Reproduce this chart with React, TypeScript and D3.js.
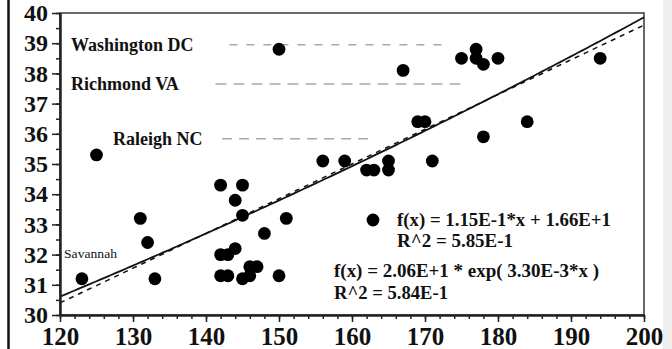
import React, { useEffect, useRef } from 'react';
import * as d3 from 'd3';

const xValues = [123, 125, 131, 132, 133, 142, 145, 144, 145, 151, 148, 142, 143, 144, 142, 143, 145, 146, 147, 146,
  150, 150, 156, 159, 162, 163, 165, 165, 171, 169, 170, 184, 178, 167, 175, 177, 177, 178, 180, 194];
const yValues = [31.2, 35.3, 33.2, 32.4, 31.2, 34.3, 34.3, 33.8, 33.3, 33.2, 32.7, 32.0, 32.0, 32.2, 31.3, 31.3, 31.2, 31.6, 31.6, 31.3,
  31.3, 38.8, 35.1, 35.1, 34.8, 34.8, 35.1, 34.8, 35.1, 36.4, 36.4, 36.4, 35.9, 38.1, 38.5, 38.8, 38.5, 38.3, 38.5, 38.5];

const xTicks = [120, 130, 140, 150, 160, 170, 180, 190, 200];
const xMinorTicks = d3.range(120, 201, 2);
const yTicks = [30, 31, 32, 33, 34, 35, 36, 37, 38, 39, 40];
const yMinorTicks = d3.range(30, 40.01, 0.5);

// fitted curves, coefficients as printed on the chart
const linearFit = [0.115, 16.6];
const expFit = [20.6, 0.0033];
const fitLabels = ['f(x) = 1.15E-1*x + 1.66E+1', 'R^2 = 5.85E-1', 'f(x) = 2.06E+1 * exp( 3.30E-3*x )', 'R^2 = 5.84E-1'];

// city reference lines (latitude) and their extent
const cityNames = ['Washington DC', 'Richmond VA', 'Raleigh NC', 'Savannah'];
const cityLat = [38.95, 37.65, 35.84, 32.05];
const guideFrom = [143.2, 141.3, 142.2];
const guideTo = [172.5, 174.9, 162.5];

const serif = '"Liberation Serif", "Times New Roman", serif';

const App = () => {
  const ref = useRef<SVGSVGElement>(null);

  useEffect(() => {
    document.body.style.margin = '0';
    const svg = d3.select(ref.current);
    svg.selectAll('*').remove();

    const width = 672;
    const height = 349;
    const left = 60, right = 644, top = 13, bottom = 315;

    const x = d3.scaleLinear().domain([120, 200]).range([left, right]);
    const y = d3.scaleLinear().domain([30, 40]).range([bottom, top]);

    svg.append('rect').attr('width', width).attr('height', height).attr('fill', '#fff');
    // page frame bits
    svg.append('rect').attr('x', 663).attr('y', 0).attr('width', 9).attr('height', height).attr('fill', '#eeeeee');
    svg.append('line').attr('x1', 8.5).attr('x2', 8.5).attr('y1', 0).attr('y2', height)
      .attr('stroke', '#111').attr('stroke-width', 2.5);

    // plot box
    svg.append('rect').attr('x', left).attr('y', top).attr('width', right - left).attr('height', bottom - top)
      .attr('fill', 'none').attr('stroke', '#444').attr('stroke-width', 1.6);

    // dashed guide lines for cities
    const dashes = ['8,9', '11,7', '10,7'];
    guideFrom.forEach((g, i) => {
      svg.append('line')
        .attr('x1', x(g)).attr('x2', x(guideTo[i]))
        .attr('y1', y(cityLat[i])).attr('y2', y(cityLat[i]))
        .attr('stroke', '#a8a8a8').attr('stroke-width', 1.5)
        .attr('stroke-dasharray', dashes[i]);
    });

    // city labels
    const labelX = [71, 71, 113, 64];
    cityNames.forEach((name, i) => {
      const small = i === 3;
      svg.append('text')
        .attr('x', labelX[i]).attr('y', y(cityLat[i])).attr('dy', '0.35em')
        .attr('font-family', serif)
        .attr('font-weight', small ? 'normal' : 'bold')
        .attr('font-size', small ? 13 : 18)
        .attr('textLength', small ? 53 : null)
        .attr('lengthAdjust', 'spacingAndGlyphs')
        .attr('fill', '#111')
        .text(name);
    });

    // fits
    const xs = d3.range(120, 200.01, 0.5);
    const line = d3.line<number>().x(d => x(d[0])).y(d => y(d[1]));
    svg.append('path')
      .datum(xs.map(v => [v, expFit[0] * Math.exp(expFit[1] * v)]))
      .attr('d', line as any)
      .attr('fill', 'none').attr('stroke', '#111').attr('stroke-width', 1.8);
    svg.append('path')
      .datum(xs.map(v => [v, linearFit[0] * v + linearFit[1]]))
      .attr('d', line as any)
      .attr('fill', 'none').attr('stroke', '#111').attr('stroke-width', 1.5)
      .attr('stroke-dasharray', '5,5');

    // points
    svg.append('g').selectAll('circle')
      .data(xValues)
      .enter()
      .append('circle')
      .attr('cx', d => x(d))
      .attr('cy', (d, i) => y(yValues[i]))
      .attr('r', 6.4)
      .attr('fill', '#000');

    // legend / fit annotations
    svg.append('circle').attr('cx', 373).attr('cy', 220).attr('r', 6.4).attr('fill', '#000');
    const fitPos = [[397, 226, 214], [397, 247, 116], [334, 277, 265], [334, 299, 114]];
    fitLabels.forEach((t, i) => {
      svg.append('text')
        .attr('x', fitPos[i][0]).attr('y', fitPos[i][1])
        .attr('font-family', serif).attr('font-weight', 'bold').attr('font-size', 18.5)
        .attr('textLength', fitPos[i][2]).attr('lengthAdjust', 'spacingAndGlyphs')
        .attr('fill', '#111')
        .text(t);
    });

    // axes
    const gxMinor = svg.append('g').attr('transform', `translate(0,${bottom})`)
      .call(d3.axisBottom(x).tickValues(xMinorTicks).tickSize(4).tickSizeOuter(0).tickFormat(() => ''));
    const gx = svg.append('g').attr('transform', `translate(0,${bottom})`)
      .call(d3.axisBottom(x).tickValues(xTicks).tickSize(7).tickSizeOuter(0).tickPadding(5).tickFormat(d3.format('d')));
    const gyMinor = svg.append('g').attr('transform', `translate(${left},0)`)
      .call(d3.axisLeft(y).tickValues(yMinorTicks).tickSize(4).tickSizeOuter(0).tickFormat(() => ''));
    const gy = svg.append('g').attr('transform', `translate(${left},0)`)
      .call(d3.axisLeft(y).tickValues(yTicks).tickSize(8).tickSizeOuter(0).tickPadding(4).tickFormat(d3.format('d')));

    [gxMinor, gx, gyMinor, gy].forEach(g => {
      g.select('.domain').attr('stroke', '#222').attr('stroke-width', 2);
      g.selectAll('.tick line').attr('stroke', '#222').attr('stroke-width', 1.5);
    });
    gx.selectAll('.tick text')
      .attr('font-family', serif).attr('font-weight', 'bold').attr('font-size', 25).attr('fill', '#111');
    gy.selectAll('.tick text')
      .attr('font-family', serif).attr('font-weight', 'bold').attr('font-size', 24).attr('fill', '#111');
  }, []);

  return <svg ref={ref} width={672} height={349} style={{ display: 'block' }} />;
};

export default App;
